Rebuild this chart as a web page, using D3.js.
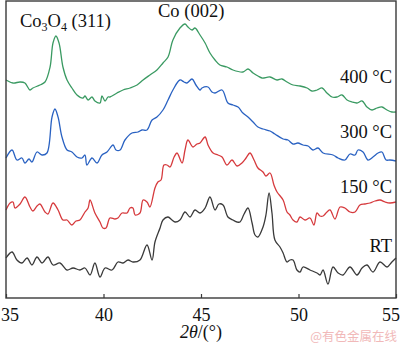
<!DOCTYPE html>
<html>
<head>
<meta charset="utf-8">
<script src="https://cdn.jsdelivr.net/npm/d3@7"></script>
<style>
  html, body { margin: 0; padding: 0; background: #fff; }
  svg { display: block; }
</style>
</head>
<body>
<svg id="chart" width="400" height="345"></svg>
<script>
// XRD patterns: [2θ (°), intensity (a.u., stacked offsets included)]
const rtPattern = [[35.00,40],[35.31,46],[35.56,38],[35.82,35],[36.08,40],[36.33,33],[36.59,41],[36.85,35],[37.15,41],[37.41,33],[37.77,35],[38.13,28],[38.44,30],[38.79,28],[39.05,30],[39.31,23],[39.56,35],[39.82,21],[40.08,30],[40.44,28],[40.74,36],[41.00,35],[41.26,38],[41.51,36],[41.87,38],[42.23,53],[42.49,38],[42.64,56],[42.90,70],[43.05,78],[43.31,81],[43.51,78],[43.67,76],[43.92,78],[44.18,86],[44.44,81],[44.69,88],[44.95,85],[45.21,90],[45.46,101],[45.72,88],[45.92,94],[46.13,93],[46.38,81],[46.64,78],[46.85,76],[47.00,76],[47.21,84],[47.41,90],[47.62,75],[47.77,63],[47.92,61],[48.18,71],[48.33,83],[48.49,105],[48.64,85],[48.79,58],[49.05,51],[49.21,45],[49.41,36],[49.56,38],[49.72,38],[49.92,28],[50.08,26],[50.23,31],[50.59,28],[50.95,25],[51.10,23],[51.26,28],[51.51,14],[51.77,31],[52.03,25],[52.28,23],[52.64,31],[53.00,23],[53.26,30],[53.51,33],[53.82,26],[54.18,36],[54.54,31],[54.79,36],[55.00,40]];

const t150Pattern = [[35.00,88],[35.21,95],[35.36,96],[35.46,90],[35.72,94],[35.97,101],[36.23,91],[36.38,87],[36.59,92],[36.74,94],[37.00,86],[37.15,84],[37.41,95],[37.67,88],[37.92,78],[38.13,78],[38.38,73],[38.59,77],[38.79,78],[39.05,86],[39.21,90],[39.31,98],[39.56,85],[39.82,76],[39.97,70],[40.13,70],[40.33,80],[40.59,79],[40.74,80],[40.95,85],[41.21,85],[41.36,90],[41.51,90],[41.62,83],[41.87,85],[42.03,98],[42.23,96],[42.38,91],[42.64,110],[42.79,116],[42.95,118],[43.10,133],[43.26,133],[43.41,131],[43.62,141],[43.77,145],[44.03,135],[44.18,148],[44.33,158],[44.59,151],[44.79,154],[44.95,155],[45.21,161],[45.36,153],[45.62,145],[45.87,143],[46.08,141],[46.33,133],[46.59,138],[46.85,132],[47.10,135],[47.31,140],[47.51,145],[47.72,138],[47.92,130],[48.18,126],[48.33,122],[48.54,125],[48.74,113],[48.90,106],[49.21,98],[49.41,86],[49.56,83],[49.72,78],[49.92,76],[50.08,81],[50.33,78],[50.59,80],[50.79,73],[50.95,85],[51.10,82],[51.26,82],[51.46,86],[51.62,88],[51.87,79],[52.13,91],[52.38,90],[52.64,86],[52.90,86],[53.15,93],[53.41,94],[53.67,95],[53.92,97],[54.18,98],[54.44,96],[54.69,95],[55.00,96]];

const t300Pattern = [[35.00,140],[35.31,148],[35.56,138],[35.82,140],[35.97,135],[36.18,139],[36.33,136],[36.59,146],[36.85,143],[37.10,145],[37.36,181],[37.51,189],[37.67,181],[37.87,161],[38.13,148],[38.38,146],[38.64,141],[38.90,140],[39.05,143],[39.15,133],[39.41,140],[39.67,135],[39.92,143],[40.18,146],[40.49,153],[40.64,148],[40.85,148],[41.10,158],[41.46,165],[41.77,166],[41.97,168],[42.23,168],[42.49,178],[42.74,181],[43.05,188],[43.31,198],[43.56,208],[43.92,218],[44.13,216],[44.28,215],[44.54,219],[44.74,213],[44.95,208],[45.05,210],[45.36,211],[45.56,206],[45.72,205],[46.08,208],[46.38,195],[46.64,193],[46.90,191],[47.15,185],[47.41,181],[47.67,176],[47.92,171],[48.18,169],[48.54,167],[48.79,164],[49.21,159],[49.46,158],[49.72,154],[49.97,155],[50.23,153],[50.49,152],[50.74,148],[51.00,150],[51.26,145],[51.77,143],[52.03,140],[52.38,138],[52.64,144],[52.90,143],[53.05,148],[53.31,146],[53.56,138],[53.82,141],[54.08,145],[54.28,146],[54.49,138],[54.69,138],[55.00,137]];

const t400Pattern = [[35.00,218],[35.36,215],[35.72,216],[35.97,215],[36.23,208],[36.38,210],[36.74,213],[37.00,216],[37.26,231],[37.41,255],[37.56,262],[37.72,255],[37.92,231],[38.13,218],[38.38,210],[38.64,203],[38.95,200],[39.05,202],[39.21,198],[39.41,201],[39.56,197],[39.82,195],[39.92,202],[40.08,197],[40.23,201],[40.33,201],[40.69,205],[41.00,208],[41.36,210],[41.72,213],[42.03,218],[42.38,223],[42.74,228],[43.05,235],[43.31,241],[43.56,258],[43.92,270],[44.18,274],[44.33,271],[44.54,268],[44.69,270],[44.95,263],[45.21,255],[45.46,245],[45.72,238],[45.97,233],[46.33,231],[46.64,228],[47.15,226],[47.41,229],[47.67,225],[47.92,222],[48.13,220],[48.54,221],[48.90,218],[49.15,219],[49.41,216],[49.72,213],[50.08,212],[50.44,210],[50.69,207],[50.95,208],[51.21,210],[51.46,205],[51.72,201],[51.97,201],[52.23,203],[52.49,198],[52.74,196],[53.00,195],[53.26,197],[53.51,191],[53.77,188],[54.03,190],[54.28,191],[54.54,188],[54.79,186],[55.00,186]];

const seriesNames  = ["RT", "150 °C", "300 °C", "400 °C"];
const seriesColors = ["#3a3a3a", "#d63a3d", "#2a62c2", "#3a9a62"];
const xTicks = [35, 40, 45, 50, 55];

const patterns = [rtPattern, t150Pattern, t300Pattern, t400Pattern];

const svg = d3.select("#chart");
const W = 400, H = 345;
const plot = { left: 6, right: 396, top: 1, bottom: 298 };

const x = d3.scaleLinear().domain([35, 55]).range([plot.left, plot.right]);
const y = d3.scaleLinear().domain([0, 297]).range([plot.bottom, plot.top]);

const serif = "'Liberation Serif', 'Times New Roman', serif";

svg.append("rect").attr("width", W).attr("height", H).attr("fill", "#fff");

// curves
const line = d3.line()
  .x(d => x(d[0]))
  .y(d => y(d[1]))
  .curve(d3.curveCatmullRom.alpha(0.5));

svg.append("g")
  .selectAll("path")
  .data(patterns)
  .join("path")
  .attr("d", line)
  .attr("fill", "none")
  .attr("stroke", (d, i) => seriesColors[i])
  .attr("stroke-width", 1.3)
  .attr("stroke-linejoin", "round");

// frame
svg.append("rect")
  .attr("x", plot.left).attr("y", plot.top)
  .attr("width", plot.right - plot.left)
  .attr("height", plot.bottom - plot.top)
  .attr("fill", "none")
  .attr("stroke", "#3a3a3a")
  .attr("stroke-width", 1.4);

// bottom axis, ticks pointing inward
const xAxis = d3.axisBottom(x).tickValues(xTicks).tickSizeInner(-4).tickSizeOuter(0).tickPadding(10);
const gx = svg.append("g")
  .attr("transform", `translate(0,${plot.bottom})`)
  .call(xAxis);
gx.select(".domain").remove();
gx.selectAll(".tick line").attr("stroke", "#3a3a3a").attr("stroke-width", 1.2);
gx.selectAll(".tick text")
  .attr("font-family", serif)
  .attr("font-size", 18)
  .attr("fill", "#111")
  .attr("dy", "0.71em");
// keep the end labels inside the page edges
gx.selectAll(".tick text")
  .filter(d => d === xTicks[0])
  .attr("text-anchor", "start")
  .attr("x", -plot.left + 0.5);
gx.selectAll(".tick text")
  .filter(d => d === xTicks[xTicks.length - 1])
  .attr("text-anchor", "end")
  .attr("x", W - plot.right - 0.5);

// axis title: 2θ/(°)
const title = svg.append("text")
  .attr("x", x(45)).attr("y", 338)
  .attr("text-anchor", "middle")
  .attr("font-family", serif)
  .attr("font-size", 18)
  .attr("fill", "#111");
title.append("tspan").attr("font-style", "italic").text("2θ");
title.append("tspan").text("/(°)");

// series labels at the right
const labelY = [252, 193, 138, 83];
svg.append("g")
  .selectAll("text")
  .data(seriesNames)
  .join("text")
  .attr("x", x(55) - 4)
  .attr("y", (d, i) => labelY[i])
  .attr("text-anchor", "end")
  .attr("font-family", serif)
  .attr("font-size", 18.5)
  .attr("fill", "#111")
  .text(d => d);

// peak annotations
const peakLabel = svg.append("text")
  .attr("x", 20).attr("y", 27)
  .attr("font-family", serif)
  .attr("font-size", 18.5)
  .attr("fill", "#111");
peakLabel.append("tspan").text("Co");
peakLabel.append("tspan").attr("font-size", 12).attr("dy", 4).text("3");
peakLabel.append("tspan").attr("dy", -4).text("O");
peakLabel.append("tspan").attr("font-size", 12).attr("dy", 4).text("4");
peakLabel.append("tspan").attr("dy", -4).text(" (311)");

svg.append("text")
  .attr("x", 158).attr("y", 17)
  .attr("font-family", serif)
  .attr("font-size", 18.5)
  .attr("fill", "#111")
  .text("Co (002)");

// source mark
svg.append("text")
  .attr("x", 397).attr("y", 341)
  .attr("text-anchor", "end")
  .attr("font-family", "'Noto Sans CJK SC', sans-serif")
  .attr("font-size", 12.5)
  .attr("fill", "#f1b9b9")
  .text("@有色金属在线");
</script>
</body>
</html>
